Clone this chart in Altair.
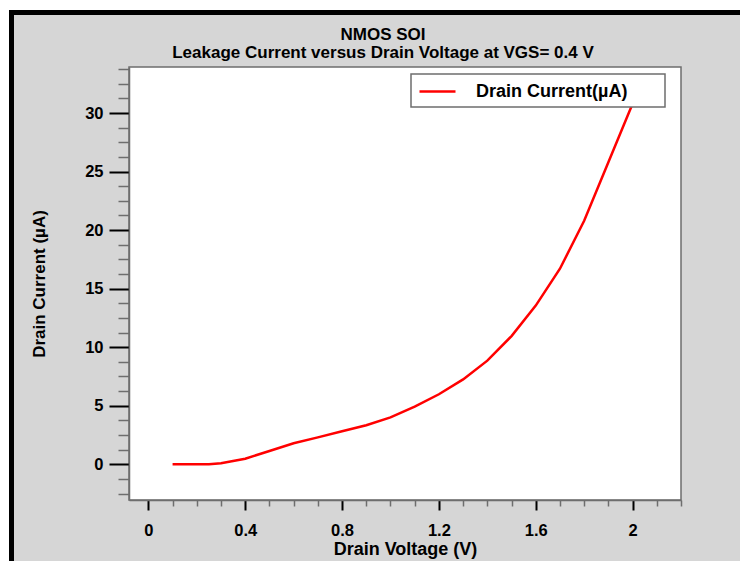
import altair as alt
import pandas as pd

# ---- data ----
voltage = [0.1, 0.2, 0.25, 0.3, 0.35, 0.4, 0.5, 0.6, 0.7, 0.8, 0.9, 1.0, 1.1,
           1.2, 1.3, 1.4, 1.5, 1.6, 1.7, 1.8, 1.9, 2.0]
current = [0.0, 0.0, 0.0, 0.08, 0.28, 0.47, 1.14, 1.79, 2.3, 2.82, 3.34, 4.0,
           4.93, 5.98, 7.25, 8.85, 10.95, 13.55, 16.7, 20.8, 25.8, 30.8]
series_name = "Drain Current(µA)"

x_ticks = [0.0, 0.1, 0.2, 0.3, 0.4, 0.5, 0.6, 0.7, 0.8, 0.9, 1.0, 1.1, 1.2,
           1.3, 1.4, 1.5, 1.6, 1.7, 1.8, 1.9, 2.0, 2.1, 2.2]
y_ticks = [-2.5, -1.25, 0, 1.25, 2.5, 3.75, 5, 6.25, 7.5, 8.75, 10, 11.25,
           12.5, 13.75, 15, 16.25, 17.5, 18.75, 20, 21.25, 22.5, 23.75, 25,
           26.25, 27.5, 28.75, 30, 31.25, 32.5, 33.75]
x_domain = [-0.08, 2.2]
y_domain = [-3.05, 33.93]

title_lines = ["NMOS SOI", "Leakage Current versus Drain Voltage at VGS= 0.4 V"]
x_title = "Drain Voltage (V)"
y_title = "Drain Current (µA)"

FONT = "Liberation Sans"
GRAY_BG = "#d6d6d6"
AXIS_GRAY = "#6e6e6e"

df = pd.DataFrame({"V": voltage, "I": current, "series": series_name})
one = pd.DataFrame({"k": [0]})

x_major = "round(datum.value*10) % 4 === 0"
y_major = "datum.value % 5 === 0"

x_axis = alt.Axis(
    values=x_ticks, title=x_title, grid=False,
    labelExpr=f"{x_major} ? format(datum.value, '~g') : ''",
    labelFont=FONT, labelFontSize=16.5, labelFontWeight="bold", labelColor="black",
    labelPadding=12, labelFlush=False, labelOverlap=False,
    titleFont=FONT, titleFontSize=18, titleFontWeight="bold", titleColor="black",
    titlePadding=2,
    domainColor=AXIS_GRAY, domainWidth=1.5,
    tickSize={"condition": {"test": x_major, "value": 10}, "value": 6},
    tickColor={"condition": {"test": x_major, "value": "black"}, "value": AXIS_GRAY},
    tickWidth={"condition": {"test": x_major, "value": 2}, "value": 1.5},
)
y_axis = alt.Axis(
    values=y_ticks, title=y_title, grid=False,
    labelExpr=f"{y_major} ? format(datum.value, '~g') : ''",
    labelFont=FONT, labelFontSize=16.5, labelFontWeight="bold", labelColor="black",
    labelPadding=6, labelFlush=False, labelOverlap=False,
    titleFont=FONT, titleFontSize=17, titleFontWeight="bold", titleColor="black",
    titlePadding=36,
    domainColor=AXIS_GRAY, domainWidth=1.5,
    tickSize={"condition": {"test": y_major, "value": 20}, "value": 11},
    tickColor={"condition": {"test": y_major, "value": "black"}, "value": AXIS_GRAY},
    tickWidth={"condition": {"test": y_major, "value": 2}, "value": 1.5},
)

line = alt.Chart(df).mark_line(strokeWidth=2.5, clip=True).encode(
    x=alt.X("V:Q", scale=alt.Scale(domain=x_domain, nice=False, zero=False), axis=x_axis),
    y=alt.Y("I:Q", scale=alt.Scale(domain=y_domain, nice=False, zero=False), axis=y_axis),
    color=alt.Color(
        "series:N",
        scale=alt.Scale(domain=[series_name], range=["#ff0000"]),
        legend=alt.Legend(
            title=None, orient="none", legendX=282, legendY=-2,
            symbolType="stroke", symbolSize=1296, symbolStrokeWidth=2.5,
            labelFont=FONT, labelFontSize=18, labelFontWeight="bold", labelColor="black",
            labelOffset=19, padding=7,
        ),
    ),
)

# frame decoration (page strips and black border)
def deco(color, x0, x1, y0, y1, stroke=None):
    kw = {"color": color, "clip": False}
    if stroke:
        kw.update(stroke=stroke, strokeWidth=1.5)
    return alt.Chart(one).mark_rect(**kw).encode(
        x=alt.value(x0), x2=alt.value(x1), y=alt.value(y0), y2=alt.value(y1)
    )

OX, OY = 129, 67
decor = [
    deco("white", -OX, 740 - OX, -OY, 10 - OY),
    deco("white", -OX, 9 - OX, -OY, 561 - OY),
    deco("black", 9 - OX, 740 - OX, 10 - OY, 15 - OY),
    deco("black", 9 - OX, 14 - OX, 10 - OY, 561 - OY),
]
legend_box = deco("white", 282, 536, 7, 40, stroke=AXIS_GRAY)

chart = alt.layer(*decor, line, legend_box).properties(
    width=552, height=433,
    background=GRAY_BG,
    padding={"left": OX, "top": OY, "right": 740 - OX - 552, "bottom": 561 - OY - 433},
    autosize=alt.AutoSizeParams(type="none"),
    title=alt.TitleParams(
        text=title_lines, font=FONT, fontSize=17, fontWeight="bold", color="black",
        anchor="middle", frame="group", dx=-22, offset=-62, lineHeight=18.5,
    ),
).configure_view(fill="white", stroke=AXIS_GRAY, strokeWidth=1.5)

chart.save("out.html", embed_options={"renderer": "svg", "actions": False})
